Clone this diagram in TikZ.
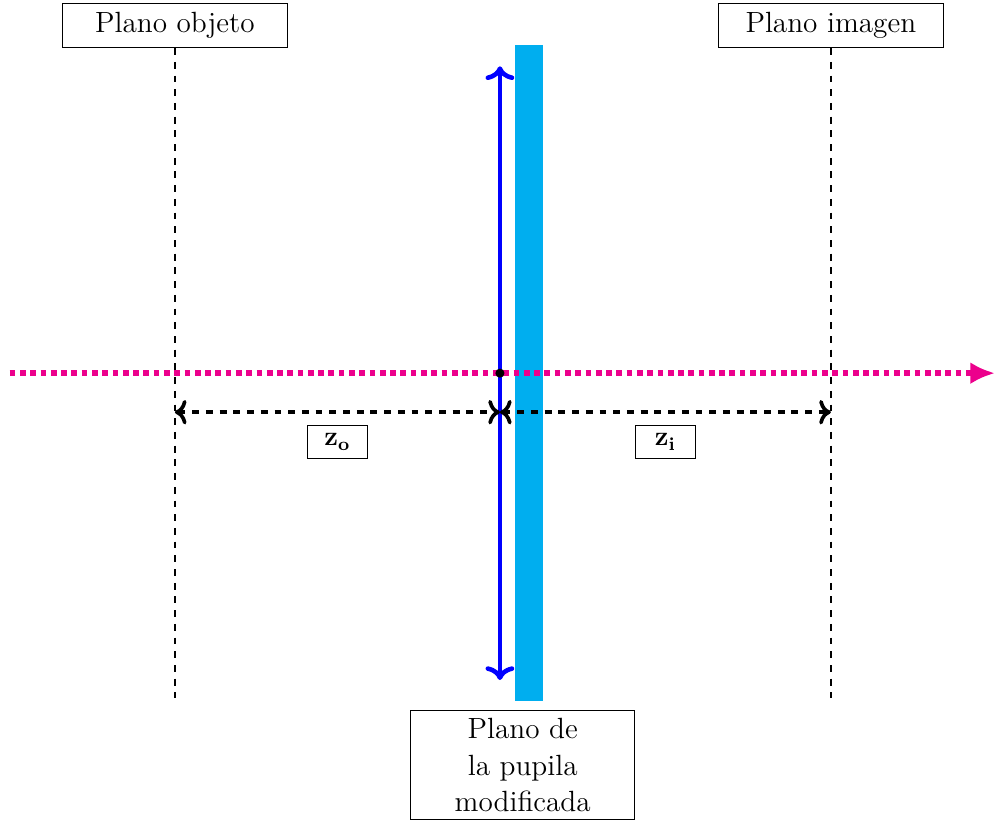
\documentclass[tikz,border=0pt]{standalone}
\usepackage{xcolor}
\definecolor{pupilcyan}{RGB}{0,174,239}
\definecolor{axismagenta}{RGB}{236,0,140}
\usepackage{amsmath}
\usepackage{tikz}
\usetikzlibrary{arrows.meta, positioning, calc}
\tikzset{
  planebox/.style={
    rectangle, draw, solid, thin, minimum width=3.45cm, minimum height=0.68cm,
    text centered, font=\fontsize{12.8}{16.1}\selectfont
  },
  distbox/.style={
    rectangle, draw, solid, thin, minimum width=0.92cm, minimum height=0.5cm,
    inner sep=2pt, font=\large
  },
  plane/.style={thick, dashed},
  dist/.style={ultra thick, dashed, <->},
  opticaxis/.style={line width=2.5pt, dotted, color=axismagenta,
    -{Latex[length=0.38cm, width=0.34cm]}},
  lens/.style={line width=2pt, color=blue, <->},
}

\begin{document}
\begin{tikzpicture}
  \useasboundingbox (-7.69,-6.91) rectangle (7.615,5.74);

  % planos
  \coordinate (objtop) at (-5,5);
  \coordinate (objbot) at (-5,-5);
  \coordinate (imgtop) at (5.09,5);
  \coordinate (imgbot) at (5.09,-5);
  \coordinate (lenstop) at (0,4.72);
  \coordinate (lensbot) at (0,-4.72);
  \coordinate (lenscenter) at (0,0);

  \fill [pupilcyan] (0.23,-5.05) rectangle (0.66,5.05);

  \draw [plane] (objtop) -- (objbot);
  \draw [plane] (imgtop) -- (imgbot);

  % eje optico
  \coordinate (axisstart) at (-7.54,0);
  \coordinate (axisend) at (7.615,0);
  \draw [opticaxis] (axisstart) -- (axisend);

  \draw [lens] (lenstop) -- (lensbot);
  \fill (lenscenter) circle (0.07);

  % distancias
  \coordinate (objdim) at (-5,-0.6);
  \coordinate (lensdim) at (0,-0.6);
  \coordinate (imgdim) at (5.09,-0.6);
  \draw [dist] (objdim) -- node (zolabel) [distbox, below=0.2cm] {$\mathbf{z_o}$} (lensdim);
  \draw [dist] (lensdim) -- node (zilabel) [distbox, below=0.2cm] {$\mathbf{z_i}$} (imgdim);

  % etiquetas
  \node (objlabel) [planebox, above=0pt of objtop] {Plano objeto};
  \node (imglabel) [planebox, above=0pt of imgtop] {Plano imagen};
  \node (pupillabel) [planebox, align=center, anchor=north] at (0.35,-5.18)
    {Plano de\\la pupila\\modificada};
\end{tikzpicture}
\end{document}
